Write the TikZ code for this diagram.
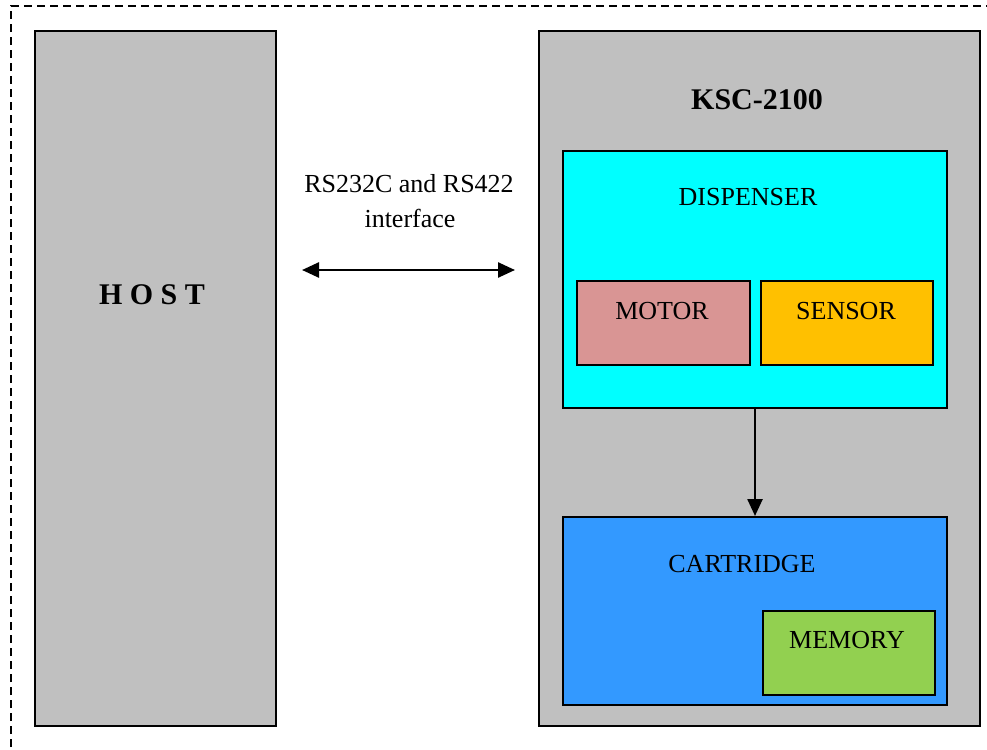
\documentclass[tikz,border=0pt]{standalone}
\usepackage{fontspec}
\setmainfont{Liberation Serif}
\usetikzlibrary{arrows.meta}
\definecolor{boxgray}{HTML}{C0C0C0}
\definecolor{dispcyan}{HTML}{00FFFF}
\definecolor{motorpink}{HTML}{D99594}
\definecolor{sensorgold}{HTML}{FFC000}
\definecolor{cartblue}{HTML}{3399FF}
\definecolor{memgreen}{HTML}{92D050}
\begin{document}
\begin{tikzpicture}[x=1pt,y=-1pt,
  blk/.style={draw=black, line width=2pt, inner sep=0pt, anchor=north west},
  lbl/.style={anchor=base, inner sep=0pt, font=\fontsize{26}{30}\selectfont},
  blbl/.style={anchor=base, inner sep=0pt, font=\fontsize{30}{34}\selectfont\bfseries},
  arr/.style={line width=2.5pt, -{Triangle[length=17pt,width=15pt]}},
  darr/.style={line width=2.5pt, {Triangle[length=17pt,width=15pt]}-{Triangle[length=17pt,width=15pt]}}
]
\useasboundingbox (0,0) rectangle (987,749);
% dashed frame (runs past the right and bottom edges)
\draw[line width=1.5pt, dash pattern=on 8pt off 5pt] (11,760) -- (11,6) -- (995,6);

% boxes
\node[blk, fill=boxgray, minimum width=241pt, minimum height=695pt] (host) at (34,30) {};
\node[blk, fill=boxgray, minimum width=441pt, minimum height=695pt] (ksc) at (538,30) {};
\node[blk, fill=dispcyan, minimum width=384pt, minimum height=257pt] (disp) at (562,150) {};
\node[blk, fill=motorpink, minimum width=173pt, minimum height=84pt] (motor) at (576,280) {};
\node[blk, fill=sensorgold, minimum width=172pt, minimum height=84pt] (sensor) at (760,280) {};
\node[blk, fill=cartblue, minimum width=384pt, minimum height=188pt] (cart) at (562,516) {};
\node[blk, fill=memgreen, minimum width=172pt, minimum height=84pt] (mem) at (762,610) {};

% labels
\node[blbl] (hostlbl) at (152,304) {H O S T};
\node[blbl] (ksclbl) at (757,110) {KSC-2100};
\node[lbl] (displbl) at (748,205) {DISPENSER};
\node[lbl] (motorlbl) at (662,319) {MOTOR};
\node[lbl] (sensorlbl) at (846,319) {SENSOR};
\node[lbl] (cartlbl) at (742,572) {CARTRIDGE};
\node[lbl] (memlbl) at (847,648) {MEMORY};
\node[lbl] (if1) at (409,192) {RS232C and RS422};
\node[lbl] (if2) at (410,227) {interface};

% connectors
\coordinate (ylink) at (0,270);
\draw[darr, shorten <=25pt, shorten >=23pt] (host.east |- ylink) -- (ksc.west |- ylink);
\draw[arr] (disp.south) -- (cart.north);
\end{tikzpicture}
\end{document}
